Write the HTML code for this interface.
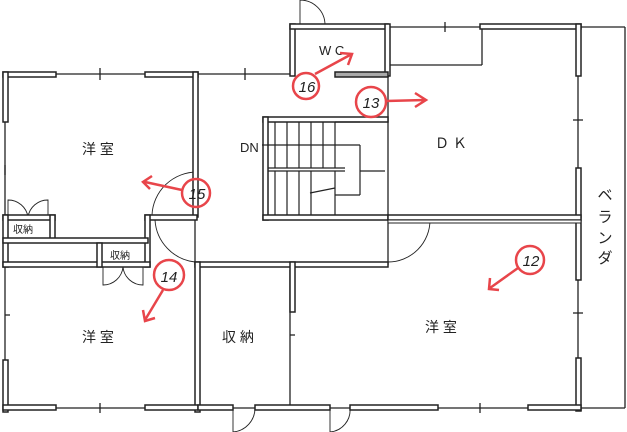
<!DOCTYPE html>
<html><head><meta charset="utf-8"><style>
html,body{margin:0;padding:0;background:#fff;}
svg{display:block;}
text{font-family:"Liberation Sans","Noto Sans CJK JP",sans-serif;fill:#222;}
</style></head><body>
<svg width="627" height="432" viewBox="0 0 627 432" xmlns="http://www.w3.org/2000/svg">
<g fill="#fff" stroke="#222" stroke-width="1.2">
<g fill="none" stroke-width="1.3">
<line x1="5" y1="74" x2="290" y2="74"/>
<line x1="5" y1="74" x2="5" y2="410"/>
<line x1="5" y1="408" x2="578" y2="408"/>
<line x1="388" y1="27" x2="625" y2="27"/>
<line x1="625" y1="27" x2="625" y2="408"/>
<line x1="578" y1="408" x2="625" y2="408"/>
<line x1="578" y1="27" x2="578" y2="408"/>
<line x1="482" y1="27" x2="482" y2="65"/>
<line x1="388" y1="65" x2="482" y2="65"/>
<line x1="388" y1="65" x2="388" y2="218"/>
<line x1="388" y1="218" x2="388" y2="265"/>
<line x1="195" y1="215" x2="195" y2="265"/>
<line x1="290" y1="270" x2="290" y2="408"/>
<line x1="100" y1="68" x2="100" y2="80"/>
<line x1="245" y1="68" x2="245" y2="80"/>
<line x1="445" y1="22" x2="445" y2="32"/>
<line x1="5" y1="165" x2="5" y2="175"/>
<line x1="573" y1="120" x2="583" y2="120"/>
<line x1="573" y1="313" x2="583" y2="313"/>
<line x1="100" y1="403" x2="100" y2="413"/>
<line x1="480" y1="403" x2="480" y2="413"/>
<line x1="5" y1="315" x2="10" y2="315"/>
<line x1="290" y1="335" x2="295" y2="335"/>
</g>
<g fill="none" stroke-width="0.9">
<path d="M300 25 L300 0 A25 25 0 0 1 325 25"/>
<path d="M152 215 A45 45 0 0 1 197 172"/>
<path d="M155 220 A45 45 0 0 0 195 262"/>
<path d="M388 262 A42 42 0 0 0 430 220"/>
<path d="M8 217 L8 200 A20 20 0 0 1 28 217"/>
<path d="M48 217 L48 200 A20 20 0 0 0 28 217"/>
<path d="M103 267 L103 285 A20 20 0 0 0 123 267"/>
<path d="M143 267 L143 285 A20 20 0 0 1 123 267"/>
<path d="M233 408 L233 432 A24 24 0 0 0 255 408"/>
<path d="M330 408 L330 432 A22 22 0 0 0 350 408"/>
</g>
<g fill="#fff" stroke-width="1.5">
<rect x="3" y="72" width="53" height="5"/>
<rect x="3" y="72" width="5" height="50"/>
<rect x="145" y="72" width="53" height="5"/>
<rect x="193" y="72" width="5" height="145"/>
<rect x="290" y="24" width="5" height="52"/>
<rect x="290" y="24" width="98" height="5"/>
<rect x="385" y="24" width="5" height="52"/>
<rect x="480" y="24" width="101" height="5"/>
<rect x="576" y="24" width="5" height="52"/>
<rect x="576" y="168" width="5" height="50"/>
<rect x="576" y="220" width="5" height="60"/>
<rect x="576" y="358" width="5" height="53"/>
<rect x="335" y="72" width="53" height="5" fill="#aaa"/>
<rect x="263" y="117" width="125" height="5"/>
<rect x="263" y="117" width="5" height="103"/>
<rect x="263" y="215" width="125" height="5"/>
<rect x="388" y="215" width="193" height="5"/>
<rect x="388" y="220" width="193" height="3" stroke-width="1"/>
<rect x="195" y="262" width="193" height="5"/>
<rect x="195" y="262" width="5" height="150"/>
<rect x="290" y="262" width="5" height="50"/>
<rect x="145" y="215" width="52" height="5"/>
<rect x="145" y="215" width="5" height="52"/>
<rect x="3" y="215" width="52" height="5"/>
<rect x="3" y="215" width="5" height="52"/>
<rect x="50" y="215" width="5" height="25"/>
<rect x="3" y="238" width="145" height="5"/>
<rect x="3" y="262" width="147" height="5"/>
<rect x="97" y="243" width="5" height="24"/>
<rect x="3" y="360" width="5" height="52"/>
<rect x="3" y="405" width="53" height="5"/>
<rect x="145" y="405" width="53" height="5"/>
<rect x="198" y="405" width="35" height="5"/>
<rect x="255" y="405" width="75" height="5"/>
<rect x="350" y="405" width="88" height="5"/>
<rect x="528" y="405" width="53" height="5"/>
</g>
<g fill="none" stroke-width="1.2">
<line x1="268" y1="168" x2="345" y2="168"/>
<line x1="268" y1="171" x2="345" y2="171"/>
<line x1="275" y1="122" x2="275" y2="168"/>
<line x1="287" y1="122" x2="287" y2="168"/>
<line x1="299" y1="122" x2="299" y2="168"/>
<line x1="311" y1="122" x2="311" y2="168"/>
<line x1="323" y1="122" x2="323" y2="168"/>
<line x1="335" y1="122" x2="335" y2="168"/>
<line x1="275" y1="171" x2="275" y2="215"/>
<line x1="287" y1="171" x2="287" y2="215"/>
<line x1="299" y1="171" x2="299" y2="215"/>
<line x1="311" y1="171" x2="311" y2="215"/>
<line x1="335" y1="122" x2="360" y2="122"/>
<line x1="360" y1="145" x2="360" y2="195"/>
<line x1="268" y1="145" x2="360" y2="145"/>
<line x1="335" y1="195" x2="360" y2="195"/>
<line x1="335" y1="171" x2="335" y2="215"/>
<line x1="360" y1="171" x2="385" y2="171"/>
<line x1="310" y1="193" x2="335" y2="188"/>
<line x1="262" y1="145" x2="268" y2="145"/>
</g>
</g>
<g font-size="14">
<text x="82" y="154">洋 室</text>
<text x="82" y="342">洋 室</text>
<text x="222" y="342">収 納</text>
<text x="425" y="332">洋 室</text>
<text x="435" y="148">Ｄ Ｋ</text>
<text x="319" y="55" font-size="13">W C</text>
<text x="240" y="152" font-size="13">DN</text>
</g>
<g font-size="10">
<text x="13" y="233">収納</text>
<text x="110" y="259">収納</text>
</g>
<g font-size="15" text-anchor="middle">
<text x="605" y="200">ベ</text>
<text x="605" y="222">ラ</text>
<text x="605" y="243">ン</text>
<text x="605" y="263">ダ</text>
</g>
<g fill="none" stroke="#e8454a" stroke-width="2.5">
<circle cx="306" cy="86" r="13"/>
<circle cx="371" cy="102" r="15"/>
<circle cx="196" cy="193" r="14"/>
<circle cx="169" cy="275" r="15"/>
<circle cx="530" cy="260" r="14"/>
<path d="M315 74 L350 55 M340 53 L352 54 L348 65"/>
<path d="M386 101 L425 100 M415 93 L426 100 L415 107"/>
<path d="M182 190 L145 182 M152 176 L143 182 L150 189"/>
<path d="M163 290 L145 320 M143 310 L145 321 L155 318"/>
<path d="M518 268 L490 288 M490 278 L489 289 L499 290"/>
</g>
<g font-size="15" fill="#333" text-anchor="middle" font-style="italic">
<text x="307" y="92">16</text>
<text x="371" y="108">13</text>
<text x="197" y="199">15</text>
<text x="169" y="282">14</text>
<text x="531" y="266">12</text>
</g>
</svg>
</body></html>
